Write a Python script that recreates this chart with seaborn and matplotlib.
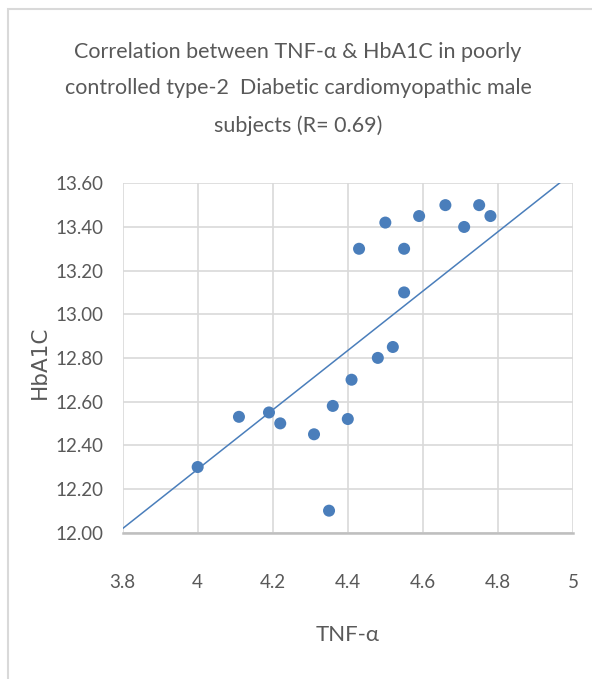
import numpy as np
import pandas as pd
import matplotlib.pyplot as plt
import matplotlib.patches as patches
import seaborn as sns

# values
tnf = [4.43, 4.50, 4.55, 4.59, 4.66, 4.71, 4.75, 4.78, 4.55, 4.52,
       4.48, 4.41, 4.36, 4.40, 4.31, 4.11, 4.19, 4.22, 4.00, 4.35]
hba1c = [13.30, 13.42, 13.30, 13.45, 13.50, 13.40, 13.50, 13.45, 13.10, 12.85,
         12.80, 12.70, 12.58, 12.52, 12.45, 12.53, 12.55, 12.50, 12.30, 12.10]
x_ticks = [3.8, 4.0, 4.2, 4.4, 4.6, 4.8, 5.0]
x_labels = ['3.8', '4', '4.2', '4.4', '4.6', '4.8', '5']
y_ticks = [12.0, 12.2, 12.4, 12.6, 12.8, 13.0, 13.2, 13.4, 13.6]

# linear trendline as drawn in the chart (slope / intercept)
trend_slope = 1.36
trend_intercept = 6.85

d = pd.DataFrame({'TNF': tnf, 'HbA1C': hba1c})
trend = pd.DataFrame({'TNF': x_ticks})
trend['HbA1C'] = trend_intercept + trend_slope * trend['TNF']

sns.set_style('white')
plt.rcParams['font.family'] = ['Lato', 'DejaVu Sans']

blue = '#4a7ebb'
grey = '#595959'

fig = plt.figure(figsize=(5.92, 6.79), dpi=100)
ax = fig.add_axes([122.6 / 592, 1 - 532.5 / 679, (573 - 122.6) / 592, (532.5 - 183.3) / 679])

sns.lineplot(data=trend, x='TNF', y='HbA1C', ax=ax, color=blue, lw=1.1, zorder=2)
sns.scatterplot(data=d, x='TNF', y='HbA1C', ax=ax, s=75, color=blue,
                edgecolor='none', zorder=3)
ax.set_xlim(3.8, 5.0)
ax.set_ylim(12.0, 13.6)

ax.set_xticks(x_ticks)
ax.set_xticklabels(x_labels)
ax.set_yticks(y_ticks)
ax.set_yticklabels([f'{v:.2f}' for v in y_ticks])
ax.tick_params(axis='both', length=0, labelsize=13.5, colors=grey)
ax.tick_params(axis='x', pad=30)
ax.tick_params(axis='y', pad=14)
ax.grid(True, color='#d9d9d9', lw=1.2)
ax.set_axisbelow(True)
for s in ['left', 'right', 'top']:
    ax.spines[s].set_visible(False)
ax.spines['bottom'].set_color('#bfbfbf')
ax.spines['bottom'].set_linewidth(1.8)
ax.set_xlabel('')
ax.set_ylabel('')

# titles and axis labels
fig.text(298 / 592, 1 - 89 / 679,
         'Correlation between TNF-\u03b1 & HbA1C in poorly\n'
         'controlled type-2  Diabetic cardiomyopathic male\n'
         'subjects (R= 0.69)',
         ha='center', va='center', fontsize=15.5, color=grey, linespacing=2.0)
fig.text(348 / 592, 1 - 635 / 679, 'TNF-\u03b1', ha='center', va='center',
         fontsize=16, color=grey)
fig.text(40 / 592, 1 - 362 / 679, 'HbA1C', ha='center', va='center', rotation=90,
         fontsize=15.5, color=grey, family=['DejaVu Sans'])

# light chart border
fig.patches.append(patches.Rectangle((8 / 592, -0.02), 1.0, 1 - 9 / 679 + 0.02,
                                     transform=fig.transFigure, fill=False,
                                     edgecolor='#d9d9d9', lw=1.5))

fig.savefig('out.png', dpi=100)
